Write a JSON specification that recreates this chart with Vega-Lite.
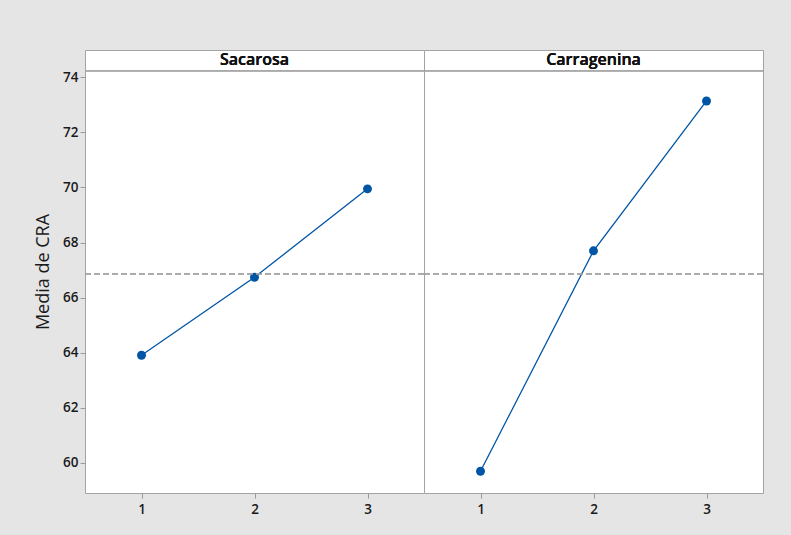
{
  "$schema": "https://vega.github.io/schema/vega-lite/v6.json",
  "background": "#e5e5e5",
  "padding": {"left": 34, "top": 49, "right": 28, "bottom": 40},
  "bounds": "flush",
  "spacing": 0,
  "config": {
    "font": "Open Sans",
    "view": {"stroke": "#a3a3a3", "strokeWidth": 1, "fill": "white"},
    "axis": {
      "domain": false,
      "grid": false,
      "tickColor": "#9a9a9a",
      "tickSize": 5,
      "labelFont": "Open Sans",
      "labelFontSize": 13.5,
      "labelFontWeight": 600,
      "labelColor": "#1a1a1a",
      "titleFont": "Open Sans",
      "titleColor": "#1a1a1a"
    }
  },
  "data": {
    "values": [
      {"factor": "Sacarosa", "nivel": 1, "media": 63.91},
      {"factor": "Sacarosa", "nivel": 2, "media": 66.74},
      {"factor": "Sacarosa", "nivel": 3, "media": 69.95},
      {"factor": "Carragenina", "nivel": 1, "media": 59.70},
      {"factor": "Carragenina", "nivel": 2, "media": 67.70},
      {"factor": "Carragenina", "nivel": 3, "media": 73.14}
    ]
  },
  "hconcat": [
    {
      "width": 339,
      "height": 443,
      "transform": [{"filter": "datum.factor === 'Sacarosa'"}],
      "encoding": {
        "x": {"field": "nivel", "type": "quantitative", "scale": {"domain": [0.5, 3.5], "nice": false, "zero": false},
              "axis": {"values": [1, 2, 3], "format": "d", "title": null, "labelPadding": 4}},
        "y": {"field": "media", "type": "quantitative", "scale": {"domain": [58.91, 74.99], "nice": false, "zero": false},
              "axis": {"values": [60, 62, 64, 66, 68, 70, 72, 74], "title": "Media de CRA", "titleFontSize": 18, "titleFontWeight": 500, "titlePadding": 10, "labelPadding": 2}}
      },
      "layer": [
        {"mark": {"type": "line", "color": "#0055a5", "strokeWidth": 1.3}},
        {"mark": {"type": "point", "filled": true, "size": 80, "color": "#0055a5", "opacity": 1}},
        {
          "mark": {"type": "rule", "color": "#a3a3a3", "strokeWidth": 1},
          "encoding": {"x": null, "y": {"datum": 74.23}}
        },
        {
          "mark": {"type": "text", "fontSize": 16, "fontWeight": 600, "color": "#111111", "baseline": "middle"},
          "encoding": {"x": {"datum": 2}, "y": {"datum": 74.61}, "text": {"value": "Sacarosa"}}
        },
        {
          "mark": {"type": "rule", "color": "#a0a0a0", "strokeDash": [6, 3], "strokeWidth": 1},
          "encoding": {"x": null, "y": {"datum": 66.86}}
        }
      ]
    },
    {
      "width": 339,
      "height": 443,
      "transform": [{"filter": "datum.factor === 'Carragenina'"}],
      "encoding": {
        "x": {"field": "nivel", "type": "quantitative", "scale": {"domain": [0.5, 3.5], "nice": false, "zero": false},
              "axis": {"values": [1, 2, 3], "format": "d", "title": null, "labelPadding": 4}},
        "y": {"field": "media", "type": "quantitative", "scale": {"domain": [58.91, 74.99], "nice": false, "zero": false},
              "axis": null}
      },
      "layer": [
        {"mark": {"type": "line", "color": "#0055a5", "strokeWidth": 1.3}},
        {"mark": {"type": "point", "filled": true, "size": 80, "color": "#0055a5", "opacity": 1}},
        {
          "mark": {"type": "rule", "color": "#a3a3a3", "strokeWidth": 1},
          "encoding": {"x": null, "y": {"datum": 74.23}}
        },
        {
          "mark": {"type": "text", "fontSize": 16, "fontWeight": 600, "color": "#111111", "baseline": "middle"},
          "encoding": {"x": {"datum": 2}, "y": {"datum": 74.61}, "text": {"value": "Carragenina"}}
        },
        {
          "mark": {"type": "rule", "color": "#a0a0a0", "strokeDash": [6, 3], "strokeWidth": 1},
          "encoding": {"x": null, "y": {"datum": 66.86}}
        }
      ]
    }
  ]
}
